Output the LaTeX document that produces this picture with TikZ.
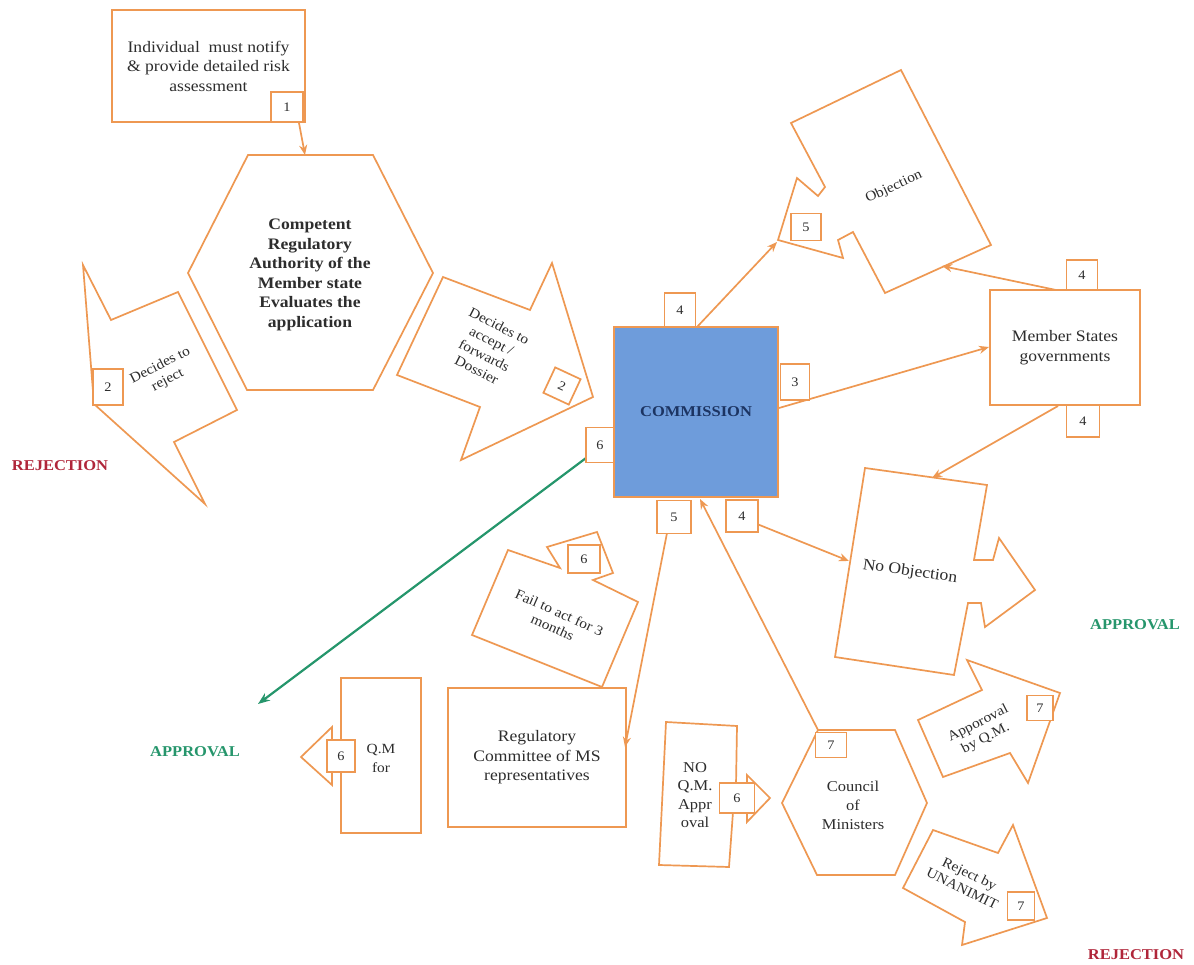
\documentclass[tikz,border=0pt]{standalone}
\usepackage{fontspec}
\setmainfont{Liberation Serif}[FakeStretch=1.1]
\usetikzlibrary{arrows.meta}
\definecolor{ln}{RGB}{238,152,82}
\definecolor{comfill}{RGB}{110,156,219}
\definecolor{comtext}{RGB}{28,52,98}
\definecolor{rej}{RGB}{176,38,58}
\definecolor{apr}{RGB}{38,150,108}
\definecolor{txt}{RGB}{45,45,45}
\begin{document}
\begin{tikzpicture}[x=1pt,y=-1pt,
  shp/.style={draw=ln, line width=1.7pt, fill=white, line join=miter},
  rbox/.style={shp, inner sep=0pt, align=center, text=txt, font=\fontsize{16}{19.5}\selectfont},
  num/.style={draw=ln, line width=1.7pt, fill=white, minimum width=30pt, minimum height=30pt, inner sep=0pt, text=txt, font=\fontsize{13}{14}\selectfont},
  lbl/.style={align=center, text=txt, font=\fontsize{16}{19.5}\selectfont, inner sep=0pt},
  rlbl/.style={align=center, text=txt, font=\fontsize{14}{16.5}\selectfont, inner sep=0pt},
  conn/.style={draw=ln, line width=1.7pt, -{Stealth[length=10pt,width=8pt]}},
  outcome/.style={font=\bfseries\fontsize{15}{16}\selectfont, inner sep=0pt}
]
\useasboundingbox[fill=white] (0,0) rectangle (1194,965);

% ---------- shapes ----------
\node[rbox, minimum width=193pt, minimum height=112pt] (indiv) at (208.5,66) {Individual\ \ must notify\\\& provide detailed risk\\assessment};

\draw[shp] (248,155) -- (373,155) -- (433,273) -- (373,390) -- (247,390) -- (188,273) -- cycle;
\node[lbl, font=\bfseries\fontsize{16}{19.6}\selectfont] (cra) at (310,275) {Competent\\Regulatory\\Authority of the\\Member state\\Evaluates the\\application};

% decides to reject
\draw[shp] (83,265) -- (111,320) -- (178,292) -- (237,410) -- (174,442) -- (205,504) -- (94,404) -- cycle;
\node[rlbl, rotate=27] (rejtxt) at (164,373) {Decides to\\reject};

% decides to accept
\draw[shp] (443,277) -- (530,310) -- (552,263) -- (593,397) -- (461,460) -- (480,407) -- (397,375) -- cycle;
\node[rlbl, rotate=-27] (acctxt) at (488,348) {Decides to\\accept /\\forwards\\Dossier};

% commission
\node[draw=ln, line width=2pt, fill=comfill, minimum width=164pt, minimum height=170pt, inner sep=0pt,
      text=comtext, font=\bfseries\fontsize{15}{16}\selectfont] (com) at (696,412) {COMMISSION};

% objection
\draw[shp] (791,123) -- (901,70) -- (991,245) -- (885,293) -- (853,232) -- (838,240) -- (843,258)
   -- (778,240) -- (797,178) -- (818,196) -- (825,187) -- cycle;
\node[rlbl, rotate=25] (objtxt) at (894,187) {Objection};

% member states
\node[rbox, minimum width=150pt, minimum height=115pt] (ms) at (1065,347.5) {Member States\\governments};

% no objection
\draw[shp] (865,468) -- (987,485) -- (974,560) -- (993,560) -- (999,538) -- (1035,590) -- (985,627)
   -- (981,603) -- (968,603) -- (954,675) -- (835,657) -- cycle;
\node[lbl, rotate=-8] (noobj) at (910,572) {No Objection};

% fail to act
\draw[shp] (508,550) -- (560,568) -- (547,547) -- (597,532) -- (613,573) -- (593,580) -- (638,602)
   -- (602,687) -- (472,635) -- cycle;
\node[rlbl, rotate=-24] (failtxt) at (556,620) {Fail to act for 3\\months};

% regulatory committee
\node[rbox, minimum width=178pt, minimum height=139pt] (reg) at (537,757.5) {Regulatory\\Committee of MS\\representatives};

% Q.M for
\draw[shp] (421,678) -- (341,678) -- (341,745) -- (332,745) -- (332,727) -- (301,757) -- (332,785)
   -- (332,770) -- (341,770) -- (341,833) -- (421,833) -- cycle;
\node[lbl, font=\fontsize{14}{19}\selectfont] (qmtxt) at (381,758) {Q.M\\for};

% NO Q.M. approval
\draw[shp] (666,722) -- (737,726) -- (736,785) -- (747,785) -- (747,775) -- (770,798) -- (747,822)
   -- (747,812) -- (733,812) -- (729,867) -- (659,865) -- cycle;
\node[lbl, font=\fontsize{15}{18.5}\selectfont] (noqm) at (695,795) {NO\\Q.M.\\Appr\\oval};

% council of ministers
\draw[shp] (818,730) -- (895,730) -- (927,803) -- (895,875) -- (817,875) -- (782,803) -- cycle;
\node[lbl, font=\fontsize{15}{19}\selectfont] (council) at (853,805) {Council\\of\\Ministers};

% approval by Q.M.
\draw[shp] (918,720) -- (982,690) -- (967,660) -- (1060,693) -- (1028,783) -- (1010,753) -- (943,777) -- cycle;
\node[rlbl, rotate=27] (apqm) at (982,731) {Apporoval\\by Q.M.};

% reject by unanimity
\draw[shp] (933,830) -- (998,853) -- (1013,825) -- (1047,918) -- (962,945) -- (965,922) -- (903,888) -- cycle;
\node[rlbl, rotate=-26] (rjun) at (966,881) {Reject by\\UNANIMIT};

% outcome labels
\node[outcome, text=rej] (rejL) at (60,466) {REJECTION};
\node[outcome, text=rej] (rejR) at (1136,955) {REJECTION};
\node[outcome, text=apr] (aprL) at (195,752) {APPROVAL};
\node[outcome, text=apr] (aprR) at (1135,625) {APPROVAL};

% ---------- connectors ----------
\coordinate (indivOut) at (299,123);
\coordinate (craTop) at (305,155);
\coordinate (objTip) at (777,242);
\coordinate (objLow) at (942,266);
\coordinate (msTop) at (1056,290);
\coordinate (msBot) at (1058,406);
\coordinate (noobjTop) at (932,478);
\coordinate (noobjLeft) at (849,561);
\coordinate (n4cOut) at (757,524);
\coordinate (councilTop) at (818,730);
\coordinate (comBot) at (700,499);
\coordinate (n5cOut) at (667,533);
\coordinate (regIn) at (625,747);
\coordinate (comLeft) at (614,437);
\coordinate (greenEnd) at (258,704);
\coordinate (comOutR) at (779,408);
\coordinate (msIn) at (989,347);
\coordinate (comOutT) at (697,327);

\draw[conn] (indivOut) -- (craTop);
\draw[conn] (comOutT) -- (objTip);
\draw[conn] (comOutR) -- (msIn);
\draw[conn] (msTop) -- (objLow);
\draw[conn] (msBot) -- (noobjTop);
\draw[conn] (n4cOut) -- (noobjLeft);
\draw[conn] (councilTop) -- (comBot);
\draw[conn] (n5cOut) -- (regIn);
\draw[draw=apr, line width=2.2pt, -{Stealth[length=12pt,width=9pt]}] (comLeft) -- (greenEnd);

% ---------- step numbers ----------
\node[num, minimum width=32pt, minimum height=30pt] (n1) at (287,107) {1};
\node[num, minimum height=36pt] (n2r) at (108,387) {2};
\node[num, rotate=-25, minimum width=28pt, minimum height=28pt] (n2a) at (562,386) {2};
\node[num, minimum width=31pt, minimum height=34pt] (n4t) at (680,310) {4};
\node[num, minimum width=29pt, minimum height=36pt] (n3) at (795,382) {3};
\node[num, minimum width=28pt, minimum height=35pt] (n6c) at (600,445) {6};
\node[num, minimum width=34pt, minimum height=33pt] (n5c) at (674,517) {5};
\node[num, minimum width=32pt, minimum height=32pt] (n4c) at (742,516) {4};
\node[num, minimum width=31pt, minimum height=30pt] (n4mt) at (1082,275) {4};
\node[num, minimum width=33pt, minimum height=32pt] (n4mb) at (1083,421) {4};
\node[num, minimum width=30pt, minimum height=27pt] (n5o) at (806,227) {5};
\node[num, minimum width=32pt, minimum height=28pt] (n6f) at (584,559) {6};
\node[num, minimum width=28pt, minimum height=32pt] (n6q) at (341,756) {6};
\node[num, minimum width=35pt, minimum height=30pt] (n6n) at (737,798) {6};
\node[num, minimum width=31pt, minimum height=25pt] (n7c) at (831,745) {7};
\node[num, minimum width=26pt, minimum height=25pt] (n7a) at (1040,708) {7};
\node[num, minimum width=27pt, minimum height=28pt] (n7r) at (1021,906) {7};
\end{tikzpicture}
\end{document}
